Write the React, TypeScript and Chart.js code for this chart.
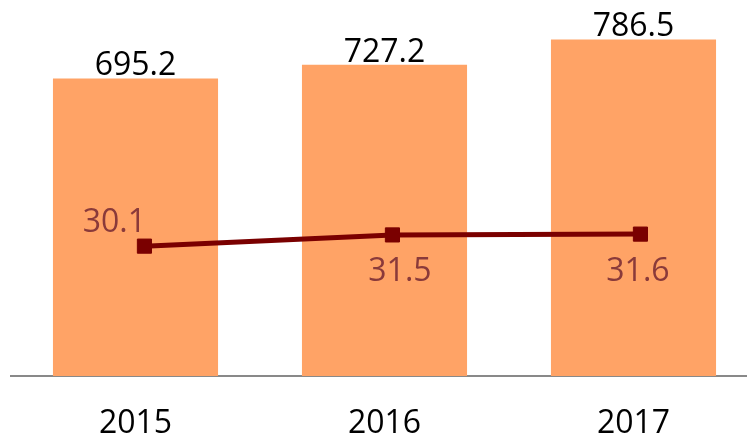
import React, { useEffect, useRef } from "react";
import { Chart, registerables } from "chart.js";

Chart.register(...registerables);

const years = ["2015", "2016", "2017"];
const totals = [695.2, 727.2, 786.5];
const rates = [30.1, 31.5, 31.6];

const FONT = "'Open Sans', 'DejaVu Sans', sans-serif";
const BAR_COLOR = "#FFA366";
const LINE_COLOR = "#7A0000";
const RATE_LABEL_COLOR = "#8A3A3A";

// label offsets (px) relative to each line marker
const rateLabelOffsets = [
  [-30, -14.5],
  [7.5, 46],
  [-2.5, 46.5],
];

const labelPlugin = {
  id: "valueLabels",
  afterDatasetsDraw(chart: any) {
    const ctx = chart.ctx;
    ctx.save();
    ctx.font = `32px ${FONT}`;
    ctx.textAlign = "center";
    ctx.textBaseline = "alphabetic";
    chart.data.datasets.forEach((ds: any, di: number) => {
      const meta = chart.getDatasetMeta(di);
      meta.data.forEach((el: any, i: number) => {
        if (ds.type === "bar") {
          ctx.fillStyle = "#000000";
          ctx.fillText(totals[i].toFixed(1), el.x, el.y - 3);
        } else {
          const [dx, dy] = rateLabelOffsets[i];
          ctx.fillStyle = RATE_LABEL_COLOR;
          ctx.fillText(rates[i].toFixed(1), el.x + dx, el.y + dy);
        }
      });
    });
    ctx.restore();
  },
};

export default function App() {
  const ref = useRef<HTMLCanvasElement | null>(null);
  useEffect(() => {
    if (!ref.current) return;
    const chart = new Chart(ref.current, {
      type: "bar",
      data: {
        labels: years,
        datasets: [
          {
            type: "line",
            label: "rate",
            data: rates.map((v, i) => ({ x: i, y: v })),
            xAxisID: "x2",
            yAxisID: "y2",
            borderColor: LINE_COLOR,
            backgroundColor: LINE_COLOR,
            borderWidth: 5,
            pointStyle: "rect",
            pointRadius: 10,
            pointBorderWidth: 1,
            pointBackgroundColor: LINE_COLOR,
            pointBorderColor: LINE_COLOR,
            tension: 0,
            order: 0,
          } as any,
          {
            type: "bar",
            label: "total",
            data: totals,
            xAxisID: "x",
            yAxisID: "y",
            backgroundColor: BAR_COLOR,
            borderWidth: 0,
            grouped: false,
            categoryPercentage: 1,
            barPercentage: 0.663,
            order: 1,
          } as any,
        ],
      },
      options: {
        responsive: false,
        animation: false,
        layout: { padding: { left: 11, right: 12, top: 0, bottom: 2.6 } },
        plugins: { legend: { display: false }, tooltip: { enabled: false } },
        scales: {
          x: {
            type: "category",
            offset: true,
            grid: { display: false, drawTicks: false },
            border: { display: true, color: "#898989", width: 2 },
            ticks: {
              color: "#000000",
              padding: 29,
              font: { family: FONT, size: 32 },
              maxRotation: 0,
            },
          },
          x2: {
            type: "linear",
            display: false,
            offset: false,
            grid: { offset: false },
            min: -0.538,
            max: 2.474,
          },
          y: {
            type: "linear",
            display: false,
            min: 0,
            max: 878.6,
          },
          y2: {
            type: "linear",
            display: false,
            position: "right",
            min: 13.91,
            max: 60.79,
          },
        },
      },
      plugins: [labelPlugin],
    } as any);
    return () => chart.destroy();
  }, []);
  return (
    <div
      style={{
        position: "fixed",
        left: 0,
        top: 0,
        width: 747,
        height: 443,
        overflow: "hidden",
        background: "#ffffff",
      }}
    >
      <canvas
        ref={ref}
        width={770}
        height={486}
        style={{ display: "block", marginTop: -11 }}
      />
    </div>
  );
}
